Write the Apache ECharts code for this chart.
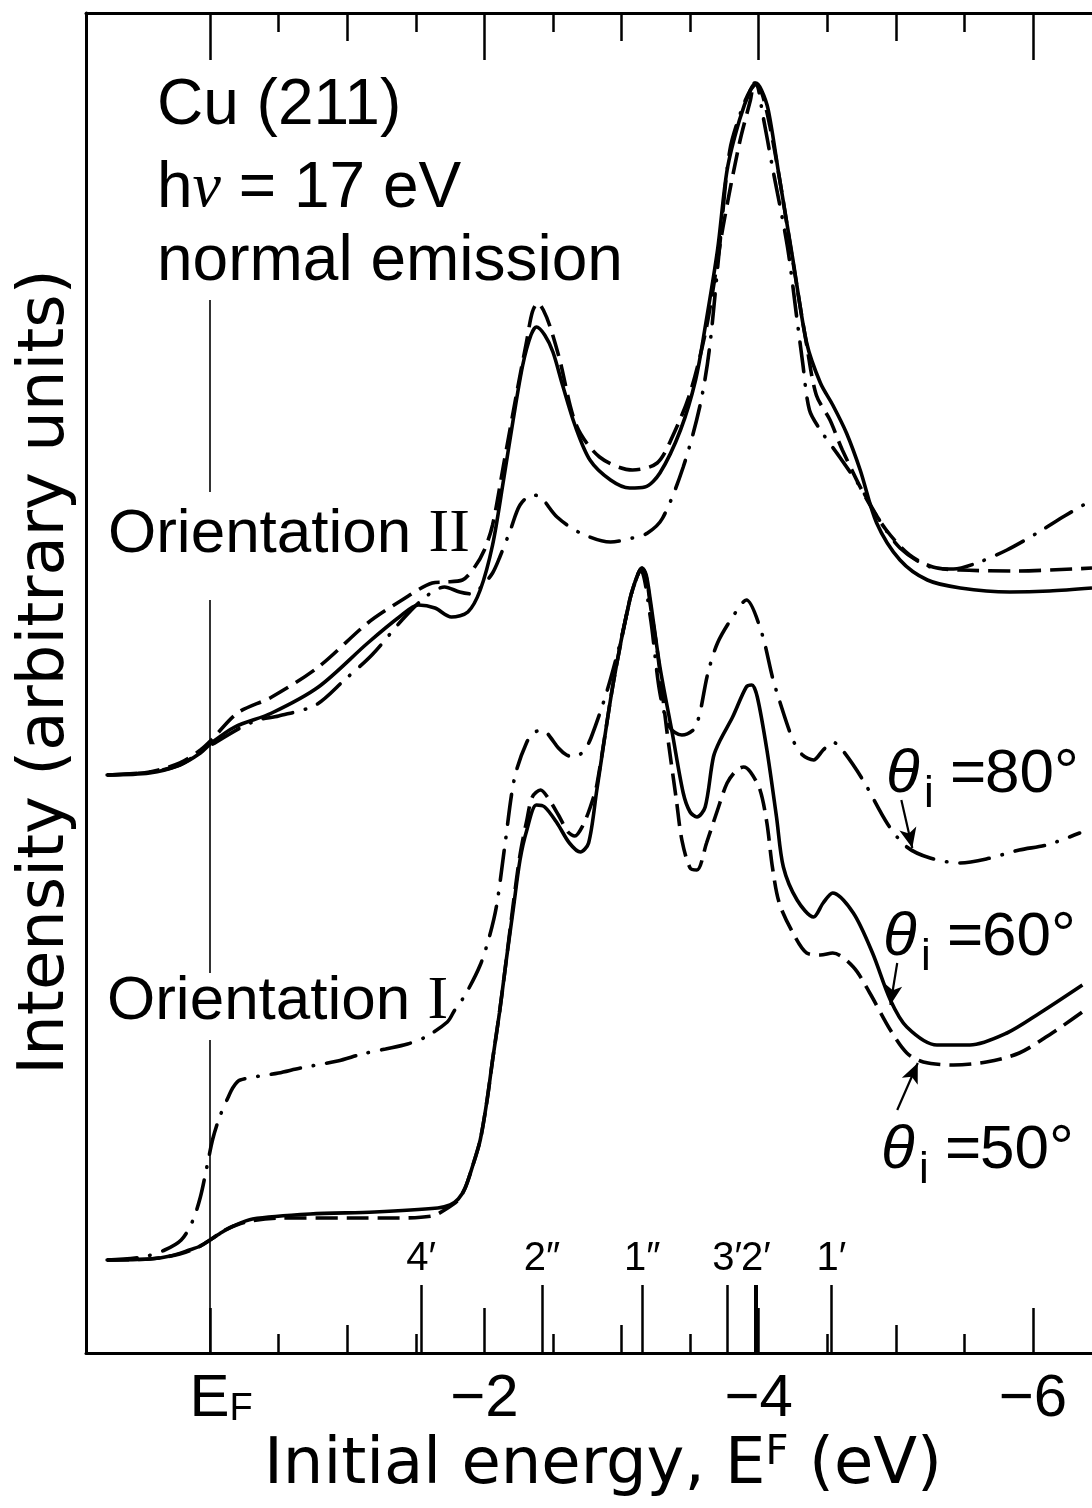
<!DOCTYPE html>
<html><head><meta charset="utf-8">
<script src="https://cdn.jsdelivr.net/npm/echarts@6.0.0/dist/echarts.min.js"></script>
<style>html,body{margin:0;padding:0;background:#fff}#c{width:1092px;height:1508px}</style>
</head><body><div id="c"></div>
<script>
// ---- data (energy in eV relative to E_F, intensity in arbitrary units) ----
const orientII_solid = [[0.75,5.78],[0.44,5.80],[0.22,5.88],[0.07,6.00],[-0.01,6.10],[-0.18,6.26],[-0.45,6.40],[-0.79,6.66],[-1.15,7.10],[-1.38,7.36],[-1.52,7.48],[-1.64,7.45],[-1.76,7.36],[-1.88,7.41],[-1.97,7.63],[-2.06,8.08],[-2.14,8.73],[-2.21,9.33],[-2.28,9.88],[-2.34,10.18],[-2.38,10.26],[-2.44,10.18],[-2.50,10.01],[-2.57,9.68],[-2.66,9.28],[-2.77,8.93],[-2.92,8.73],[-3.06,8.65],[-3.17,8.66],[-3.28,8.80],[-3.43,9.23],[-3.54,9.73],[-3.61,10.26],[-3.70,11.03],[-3.77,11.83],[-3.86,12.33],[-3.94,12.63],[-3.98,12.70],[-4.02,12.63],[-4.07,12.43],[-4.15,11.76],[-4.25,10.93],[-4.35,10.10],[-4.45,9.70],[-4.54,9.48],[-4.64,9.20],[-4.74,8.83],[-4.86,8.30],[-5.03,7.93],[-5.23,7.73],[-5.47,7.65],[-5.83,7.61],[-6.12,7.62],[-6.43,7.65]];
const orientII_dashed = [[0.75,5.78],[0.44,5.81],[0.22,5.90],[0.07,6.03],[-0.01,6.13],[-0.20,6.40],[-0.45,6.56],[-0.79,6.86],[-1.15,7.30],[-1.40,7.53],[-1.62,7.70],[-1.71,7.71],[-1.84,7.73],[-1.93,7.86],[-2.00,8.03],[-2.06,8.28],[-2.14,8.88],[-2.24,9.63],[-2.31,10.13],[-2.35,10.41],[-2.39,10.50],[-2.43,10.43],[-2.48,10.26],[-2.55,9.93],[-2.67,9.28],[-2.84,8.96],[-3.08,8.83],[-3.26,8.90],[-3.37,9.16],[-3.50,9.60],[-3.62,10.26],[-3.74,11.26],[-3.86,12.10],[-3.94,12.53],[-3.97,12.70],[-4.02,12.61],[-4.08,12.28],[-4.15,11.76],[-4.25,10.91],[-4.35,10.08],[-4.42,9.58],[-4.52,9.33],[-4.61,9.03],[-4.79,8.53],[-4.93,8.23],[-5.10,7.98],[-5.27,7.86],[-5.47,7.83],[-5.88,7.82],[-6.29,7.84],[-6.43,7.85]];
const orientII_dashdot = [[0.75,5.78],[0.44,5.81],[0.22,5.88],[0.07,6.01],[-0.01,6.08],[-0.22,6.25],[-0.35,6.33],[-0.50,6.37],[-0.77,6.48],[-0.98,6.73],[-1.18,6.98],[-1.40,7.33],[-1.57,7.56],[-1.71,7.66],[-1.82,7.61],[-1.91,7.59],[-1.99,7.68],[-2.06,7.80],[-2.11,7.95],[-2.19,8.23],[-2.26,8.48],[-2.35,8.58],[-2.41,8.56],[-2.53,8.36],[-2.70,8.20],[-2.92,8.11],[-3.08,8.15],[-3.19,8.20],[-3.30,8.35],[-3.45,8.86],[-3.57,9.46],[-3.64,10.03],[-3.72,11.13],[-3.79,12.03],[-3.88,12.45],[-3.94,12.63],[-3.98,12.69],[-4.03,12.38],[-4.10,11.86],[-4.21,11.06],[-4.28,10.33],[-4.32,9.91],[-4.37,9.43],[-4.45,9.23],[-4.59,8.96],[-4.74,8.66],[-4.88,8.33],[-5.03,8.05],[-5.23,7.87],[-5.42,7.84],[-5.59,7.90],[-5.81,8.03],[-6.03,8.20],[-6.23,8.37],[-6.43,8.53]];
const orientI_60_solid = [[0.75,0.93],[0.44,0.94],[0.29,0.97],[0.15,1.03],[0.07,1.07],[0,1.13],[-0.09,1.21],[-0.17,1.27],[-0.31,1.34],[-0.73,1.39],[-1.20,1.41],[-1.66,1.45],[-1.75,1.48],[-1.81,1.54],[-1.86,1.65],[-1.91,1.85],[-1.97,2.13],[-2.02,2.53],[-2.06,2.93],[-2.11,3.40],[-2.16,3.93],[-2.21,4.43],[-2.26,4.93],[-2.31,5.23],[-2.38,5.48],[-2.44,5.46],[-2.53,5.30],[-2.62,5.10],[-2.70,5.01],[-2.76,5.10],[-2.82,5.63],[-2.94,6.70],[-3.06,7.53],[-3.12,7.79],[-3.15,7.85],[-3.18,7.78],[-3.21,7.53],[-3.28,6.86],[-3.37,6.20],[-3.45,5.60],[-3.50,5.41],[-3.55,5.36],[-3.61,5.46],[-3.67,5.96],[-3.72,6.13],[-3.81,6.36],[-3.91,6.66],[-3.95,6.68],[-3.99,6.56],[-4.06,6.03],[-4.13,5.36],[-4.18,4.86],[-4.28,4.53],[-4.40,4.36],[-4.47,4.50],[-4.54,4.60],[-4.69,4.40],[-4.83,4.00],[-4.96,3.53],[-5.08,3.26],[-5.30,3.08],[-5.54,3.08],[-5.81,3.20],[-6.05,3.40],[-6.36,3.68]];
const orientI_50_dashed = [[0.75,0.93],[0.44,0.94],[0.22,0.99],[0.07,1.07],[0,1.13],[-0.11,1.23],[-0.26,1.31],[-0.51,1.35],[-1.02,1.35],[-1.38,1.35],[-1.62,1.37],[-1.71,1.43],[-1.81,1.53],[-1.86,1.65],[-1.91,1.85],[-1.97,2.13],[-2.02,2.53],[-2.06,2.93],[-2.11,3.40],[-2.16,3.93],[-2.21,4.48],[-2.26,4.98],[-2.31,5.33],[-2.35,5.56],[-2.41,5.63],[-2.46,5.56],[-2.54,5.38],[-2.61,5.21],[-2.66,5.17],[-2.72,5.28],[-2.77,5.45],[-2.82,5.68],[-2.94,6.70],[-3.06,7.53],[-3.12,7.79],[-3.15,7.85],[-3.18,7.76],[-3.21,7.48],[-3.26,7.03],[-3.33,6.23],[-3.40,5.53],[-3.44,5.13],[-3.50,4.85],[-3.55,4.83],[-3.62,5.10],[-3.70,5.43],[-3.77,5.70],[-3.84,5.83],[-3.89,5.86],[-3.94,5.81],[-4.01,5.63],[-4.06,5.30],[-4.10,4.86],[-4.15,4.50],[-4.25,4.20],[-4.35,4.00],[-4.45,3.98],[-4.54,4.00],[-4.69,3.86],[-4.81,3.60],[-4.96,3.23],[-5.08,3.00],[-5.20,2.91],[-5.42,2.88],[-5.66,2.91],[-5.90,3.00],[-6.14,3.20],[-6.36,3.41]];
const orientI_80_dashdot = [[0.75,0.93],[0.49,0.96],[0.33,1.03],[0.21,1.13],[0.13,1.31],[0.07,1.56],[0.02,1.88],[-0.02,2.14],[-0.07,2.36],[-0.13,2.55],[-0.17,2.66],[-0.22,2.73],[-0.50,2.80],[-0.66,2.85],[-0.93,2.92],[-1.11,2.99],[-1.28,3.04],[-1.44,3.09],[-1.57,3.16],[-1.73,3.31],[-1.78,3.42],[-1.86,3.58],[-1.97,3.88],[-2.04,4.18],[-2.09,4.48],[-2.15,5.08],[-2.22,5.75],[-2.31,6.11],[-2.37,6.21],[-2.43,6.23],[-2.48,6.16],[-2.54,6.05],[-2.60,5.98],[-2.66,5.96],[-2.73,6.03],[-2.78,6.16],[-2.89,6.60],[-2.99,7.10],[-3.08,7.63],[-3.14,7.83],[-3.21,7.36],[-3.28,6.60],[-3.35,6.26],[-3.44,6.18],[-3.54,6.26],[-3.63,6.80],[-3.70,7.10],[-3.81,7.36],[-3.91,7.53],[-4.02,7.21],[-4.10,6.76],[-4.15,6.53],[-4.25,6.13],[-4.32,5.98],[-4.40,5.93],[-4.47,6.03],[-4.54,6.11],[-4.61,6.03],[-4.76,5.73],[-4.94,5.29],[-5.08,5.06],[-5.25,4.95],[-5.47,4.90],[-5.66,4.94],[-5.90,5.03],[-6.10,5.08],[-6.34,5.20]];

const majorTicks = [0, -2, -4, -6];
const tickLabels = ['E_F', '−2', '−4', '−6'];
const midTicks = [-1, -3, -5];
const minorTicks = [-0.5, -1.5, -2.5, -3.5, -4.5, -5.5];

const peakLabels = ['4′', '2″', '1″', '3′', '2′', '1′'];
const peakEnergies = [-1.54, -2.42, -3.15, -3.77, -3.98, -4.53];
const peakMarkerHeight = 0.68;

const fermiLineSegments = [[10.53, 8.61], [7.53, 3.80], [3.13, 0]];
const angleArrows = [
  [[-5.04, 5.53], [-5.12, 5.05]],
  [[-5.01, 3.90], [-4.96, 3.48]],
  [[-5.01, 2.43], [-5.16, 2.90]]
];

// ---- chart ----
const FONT = '"Liberation Sans", Arial, sans-serif';
const TFONT = '"DejaVu Sans", "Liberation Sans", sans-serif';
const X_MIN = -6.43, X_MAX = 0.904;
const chart = echarts.init(document.getElementById('c'), null, {renderer: 'canvas'});

function xAxisDef(pos, ticks, len, showLine) {
  return {
    type: 'value', position: pos, min: X_MIN, max: X_MAX, inverse: true,
    axisLine: {show: showLine, onZero: false, lineStyle: {color: '#000', width: 3}},
    axisTick: {show: true, inside: true, length: len, customValues: ticks, lineStyle: {color: '#000', width: 2.5}},
    axisLabel: {show: false},
    splitLine: {show: false}
  };
}
const mainX = xAxisDef('bottom', majorTicks, 45, true);
mainX.axisLabel = {
  show: true, customValues: majorTicks, margin: 16, color: '#000', fontFamily: FONT, fontSize: 60,
  formatter: function (v) {
    const i = majorTicks.indexOf(v);
    const s = i >= 0 ? tickLabels[i] : '';
    if (s === 'E_F') return '{e|E}{f|F}';
    return '{n|' + s + '}';
  },
  rich: {
    e: {fontSize: 60, lineHeight: 60, fontFamily: FONT, color: '#000', verticalAlign: 'top', padding: [0, 0, 0, 22]},
    f: {fontSize: 38, lineHeight: 38, fontFamily: FONT, color: '#000', verticalAlign: 'bottom', padding: [34, 0, 0, 0]},
    n: {fontSize: 60, lineHeight: 60, fontFamily: FONT, color: '#000', verticalAlign: 'top'}
  }
};
mainX.name = '{a|Initial energy, E}{s|F}{a| (eV)}';
mainX.nameLocation = 'middle';
mainX.nameGap = 78;
mainX.nameTextStyle = {
  color: '#000', fontFamily: TFONT, fontSize: 64, padding: [0, 0, 0, 28],
  rich: {
    a: {fontSize: 64, lineHeight: 64, fontFamily: TFONT, color: '#000', verticalAlign: 'bottom'},
    s: {fontSize: 40, lineHeight: 40, fontFamily: TFONT, color: '#000', verticalAlign: 'top'}
  }
};

function lineSeries(name, data, type, cap) {
  return {
    name: name, type: 'line', data: data, xAxisIndex: 0, yAxisIndex: 0,
    showSymbol: false, symbol: 'none', smooth: 0.3, silent: true,
    lineStyle: {color: '#000', width: 3.6, type: type, cap: cap || 'butt'}
  };
}
const DASH = [22, 9];
const DASHDOT = [30, 13, 0.5, 13];

const fermiData = fermiLineSegments.map(s => [
  {coord: [0, s[0]], symbol: 'none'},
  {coord: [0, s[1]], symbol: 'none'}
]);
const peakData = peakEnergies.map((e, i) => [
  {coord: [e, 0], symbol: 'none', name: peakLabels[i],
   lineStyle: {color: '#000', width: peakLabels[i] === '2′' ? 4 : 2.5, type: 'solid'},
   label: {show: true, position: 'end', formatter: peakLabels[i], distance: 6, color: '#000', fontFamily: FONT, fontSize: 40}},
  {coord: [e, peakMarkerHeight], symbol: 'none'}
]);
const arrowData = angleArrows.map(a => [
  {coord: a[0], symbol: 'none'},
  {coord: a[1], symbol: 'arrow', symbolSize: [13, 20]}
]);

function txt(x, y, text, font, extra) {
  const st = {text: text, fill: '#000', font: font, align: 'left', verticalAlign: 'middle', textAlign: 'left', textVerticalAlign: 'middle'};
  if (extra) Object.assign(st, extra);
  return {type: 'text', x: x, y: y, z: 50, style: st};
}

const option = {
  animation: false,
  backgroundColor: '#fff',
  grid: {left: 86, right: 0, top: 13, bottom: 155, containLabel: false},
  xAxis: [
    mainX,
    xAxisDef('bottom', midTicks, 28, false),
    xAxisDef('bottom', minorTicks, 19, false),
    xAxisDef('top', majorTicks, 47, true),
    xAxisDef('top', midTicks, 28, false),
    xAxisDef('top', minorTicks, 19, false)
  ],
  yAxis: {
    type: 'value', min: 0, max: 13.4,
    axisLine: {show: true, onZero: false, lineStyle: {color: '#000', width: 3}},
    axisTick: {show: false}, axisLabel: {show: false}, splitLine: {show: false},
    name: 'Intensity (arbitrary units)', nameLocation: 'middle', nameRotate: 90, nameGap: 8,
    nameTextStyle: {color: '#000', fontFamily: TFONT, fontSize: 64, padding: [0, 0, 0, 22]}
  },
  series: [
    lineSeries('Orientation II solid', orientII_solid, 'solid'),
    lineSeries('Orientation II dashed', orientII_dashed, DASH),
    lineSeries('Orientation II dash-dot', orientII_dashdot, DASHDOT, 'round'),
    lineSeries('Orientation I θi=60°', orientI_60_solid, 'solid'),
    lineSeries('Orientation I θi=50°', orientI_50_dashed, DASH),
    lineSeries('Orientation I θi=80°', orientI_80_dashdot, DASHDOT, 'round'),
    {
      name: 'E_F', type: 'line', data: [], silent: true,
      markLine: {silent: true, animation: false, symbol: ['none', 'none'], label: {show: false},
        lineStyle: {color: '#000', width: 1.6, type: 'solid'}, data: fermiData}
    },
    {
      name: 'peaks', type: 'line', data: [], silent: true,
      markLine: {silent: true, animation: false, symbol: ['none', 'none'], label: {show: true},
        lineStyle: {color: '#000', width: 2.5, type: 'solid'}, data: peakData}
    },
    {
      name: 'arrows', type: 'line', data: [], silent: true,
      markLine: {silent: true, animation: false, symbol: ['none', 'arrow'], label: {show: false},
        lineStyle: {color: '#000', width: 2.2, type: 'solid'}, data: arrowData}
    }
  ],
  graphic: [
    txt(157, 106, 'Cu (211)', '64px ' + FONT),
    txt(157, 189, 'h{nu|ν} = 17 eV', '64px ' + FONT, {rich: {nu: {fontSize: 64, fontFamily: '"Liberation Serif", serif', fontStyle: 'italic', fill: '#000'}}}),
    txt(157, 262, 'normal emission', '64px ' + FONT),
    txt(108, 535, 'Orientation {r|II}', '62px ' + FONT, {rich: {r: {fontSize: 62, fontFamily: '"Liberation Serif", serif', fill: '#000'}}}),
    txt(107, 1002, 'Orientation {r|I}', '62px ' + FONT, {rich: {r: {fontSize: 62, fontFamily: '"Liberation Serif", serif', fill: '#000'}}}),
    txt(886, 775, 'θ', 'italic 62px ' + FONT),
    txt(924, 795, 'i', '44px ' + FONT),
    txt(950, 775, '=', '62px ' + FONT),
    txt(985, 775, '80°', '62px ' + FONT),
    txt(883, 938, 'θ', 'italic 62px ' + FONT),
    txt(921, 958, 'i', '44px ' + FONT),
    txt(947, 938, '=', '62px ' + FONT),
    txt(982, 938, '60°', '62px ' + FONT),
    txt(881, 1151, 'θ', 'italic 62px ' + FONT),
    txt(919, 1171, 'i', '44px ' + FONT),
    txt(945, 1151, '=', '62px ' + FONT),
    txt(980, 1151, '50°', '62px ' + FONT)
  ]
};
chart.setOption(option);
</script>
</body></html>
